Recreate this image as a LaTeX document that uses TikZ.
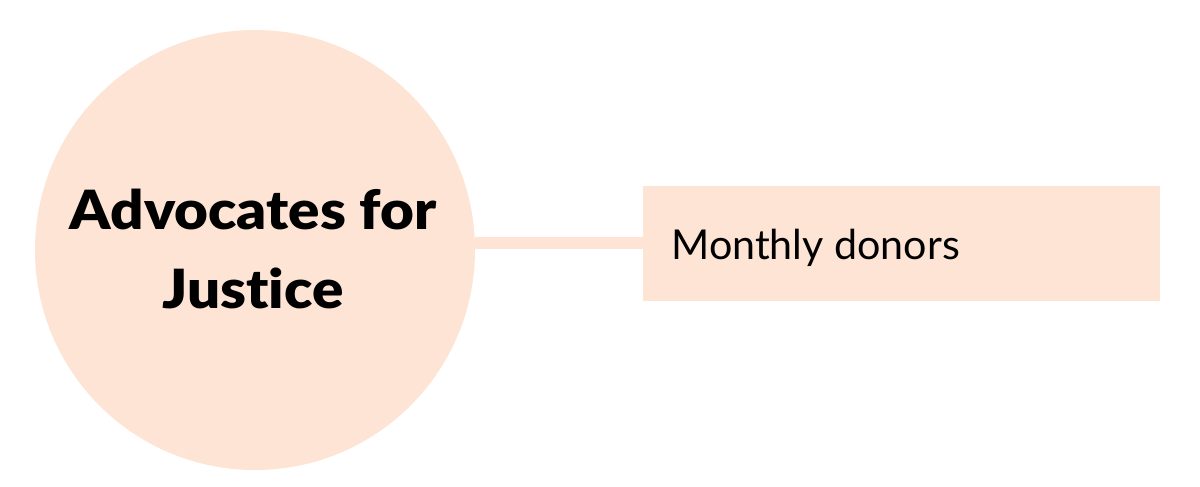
\documentclass[tikz,border=0pt]{standalone}
\usepackage{fontspec}
\setmainfont{Lato}[Ligatures=NoCommon]
\newfontfamily\heavyfont{Lato Black}[Ligatures=NoCommon,FakeStretch=1.08]
\definecolor{peach}{HTML}{FDE4D5}
\begin{document}
\begin{tikzpicture}[x=0.5pt,y=-0.5pt]
\tikzset{
  hub/.style={circle,fill=peach,minimum size=220pt,inner sep=0pt},
  leaf/.style={fill=peach,minimum width=258.5pt,minimum height=57.5pt,inner sep=0pt,anchor=north west},
  link/.style={draw=peach,line width=6pt}
}
\useasboundingbox (0,0) rectangle (1200,487);
\node[hub] (c) at (255,250) {};
\node[leaf] (r) at (643,185.5) {};
\draw[link] (c.east |- 0,243) coordinate (ce) -- (r.west |- 0,243) coordinate (re);
\node[anchor=base,font=\heavyfont\fontsize{27}{32}\selectfont] (t1) at (253,229) {Advocates for};
\node[anchor=base,font=\heavyfont\fontsize{27}{32}\selectfont] (t2) at (253,308) {Justice};
\node[anchor=base west,font=\fontsize{20.6}{25}\selectfont,inner sep=0pt] (t3) at (671,259) {Monthly donors};
\end{tikzpicture}
\end{document}
